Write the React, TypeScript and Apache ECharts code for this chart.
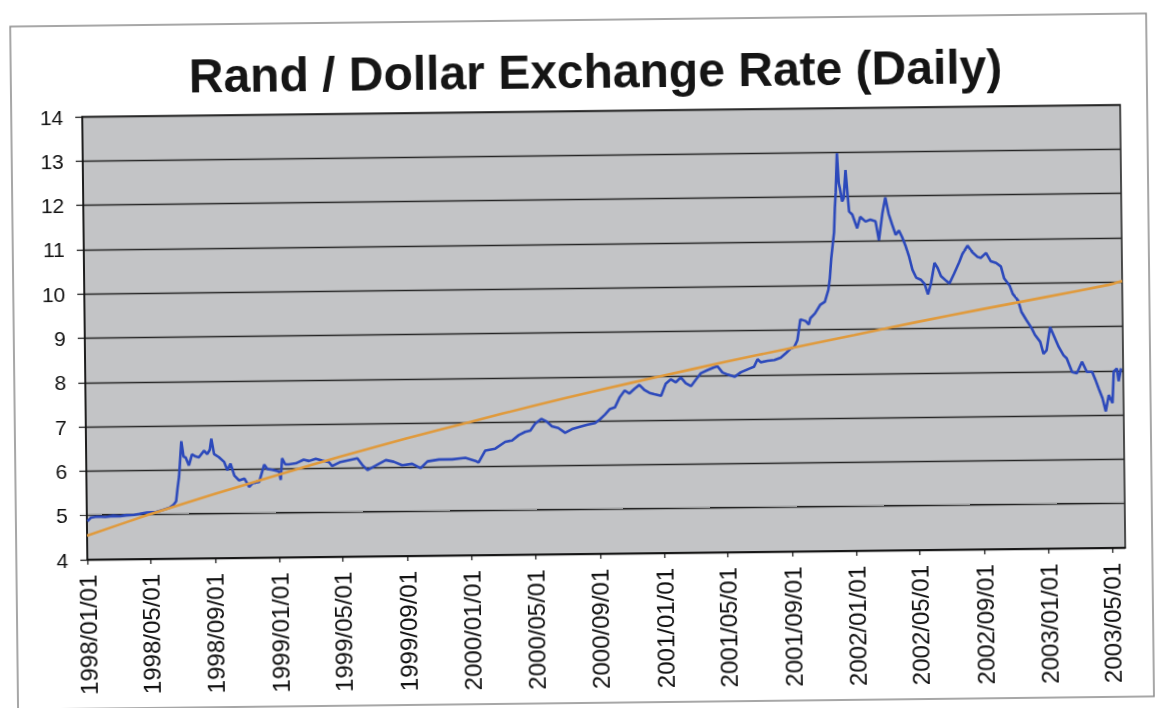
import React, { useEffect, useRef } from "react";
import * as echarts from "echarts";

// Rand per US dollar, sampled from the daily series
const rateDates: string[] = [
  "1998-01-02", "1998-01-09", "1998-01-20", "1998-02-05", "1998-02-20", "1998-03-05", "1998-03-17", "1998-04-01",
  "1998-04-11", "1998-04-25", "1998-05-13", "1998-05-25", "1998-06-07", "1998-06-15", "1998-06-20", "1998-06-23",
  "1998-06-26", "1998-07-01", "1998-07-05", "1998-07-09", "1998-07-15", "1998-07-21", "1998-07-28", "1998-08-03",
  "1998-08-13", "1998-08-19", "1998-08-24", "1998-08-27", "1998-09-01", "1998-09-10", "1998-09-20", "1998-09-26",
  "1998-10-02", "1998-10-09", "1998-10-18", "1998-10-28", "1998-11-06", "1998-11-12", "1998-11-25", "1998-12-05",
  "1998-12-11", "1998-12-20", "1999-01-02", "1999-01-05", "1999-01-08", "1999-01-14", "1999-01-21", "1999-02-03",
  "1999-02-18", "1999-02-28", "1999-03-13", "1999-03-25", "1999-04-07", "1999-04-13", "1999-04-29", "1999-05-15",
  "1999-05-31", "1999-06-09", "1999-06-19", "1999-07-05", "1999-07-24", "1999-08-08", "1999-08-24", "1999-09-12",
  "1999-09-28", "1999-10-11", "1999-11-02", "1999-11-27", "1999-12-22", "2000-01-10", "2000-01-16", "2000-01-29",
  "2000-02-17", "2000-03-07", "2000-03-20", "2000-04-02", "2000-04-14", "2000-04-24", "2000-05-03", "2000-05-15",
  "2000-05-25", "2000-06-04", "2000-06-16", "2000-06-29", "2000-07-12", "2000-07-24", "2000-08-09", "2000-08-25",
  "2000-09-03", "2000-09-13", "2000-09-22", "2000-10-02", "2000-10-11", "2000-10-21", "2000-10-30", "2000-11-09",
  "2000-11-18", "2000-11-28", "2000-12-07", "2000-12-16", "2000-12-29", "2001-01-07", "2001-01-17", "2001-01-26",
  "2001-02-05", "2001-02-14", "2001-02-24", "2001-03-05", "2001-03-15", "2001-03-28", "2001-04-10", "2001-04-16",
  "2001-04-25", "2001-05-05", "2001-05-18", "2001-05-30", "2001-06-15", "2001-06-24", "2001-07-01", "2001-07-07",
  "2001-07-20", "2001-08-02", "2001-08-14", "2001-08-24", "2001-09-02", "2001-09-09", "2001-09-15", "2001-09-18",
  "2001-09-21", "2001-10-01", "2001-10-07", "2001-10-10", "2001-10-19", "2001-10-29", "2001-11-07", "2001-11-14",
  "2001-11-17", "2001-11-20", "2001-11-23", "2001-11-26", "2001-11-28", "2001-11-30", "2001-12-03", "2001-12-06",
  "2001-12-08", "2001-12-12", "2001-12-15", "2001-12-19", "2001-12-23", "2001-12-25", "2001-12-31", "2002-01-09",
  "2002-01-15", "2002-01-25", "2002-02-03", "2002-02-13", "2002-02-19", "2002-02-26", "2002-03-04", "2002-03-10",
  "2002-03-16", "2002-03-23", "2002-03-29", "2002-04-04", "2002-04-11", "2002-04-17", "2002-04-23", "2002-04-30",
  "2002-05-09", "2002-05-16", "2002-05-22", "2002-05-28", "2002-06-04", "2002-06-10", "2002-06-16", "2002-06-26",
  "2002-07-02", "2002-07-11", "2002-07-21", "2002-07-27", "2002-08-06", "2002-08-15", "2002-08-25", "2002-08-31",
  "2002-09-10", "2002-09-19", "2002-09-29", "2002-10-08", "2002-10-14", "2002-10-24", "2002-10-30", "2002-11-09",
  "2002-11-15", "2002-11-24", "2002-12-04", "2002-12-10", "2002-12-20", "2002-12-26", "2003-01-01", "2003-01-08",
  "2003-01-14", "2003-01-24", "2003-02-02", "2003-02-08", "2003-02-18", "2003-02-27", "2003-03-09", "2003-03-18",
  "2003-03-28", "2003-04-03", "2003-04-09", "2003-04-16", "2003-04-22", "2003-04-28", "2003-05-05", "2003-05-08",
  "2003-05-14", "2003-05-17", "2003-05-22",
];

const rateValues: number[] = [
  4.87, 4.95, 4.97, 4.96, 4.98, 4.97, 4.99, 5.0,
  5.02, 5.05, 5.06, 5.1, 5.15, 5.22, 5.3, 5.6,
  5.85, 6.65, 6.3, 6.28, 6.1, 6.35, 6.3, 6.28,
  6.43, 6.35, 6.45, 6.7, 6.35, 6.28, 6.17, 5.98,
  6.13, 5.86, 5.75, 5.79, 5.6, 5.68, 5.71, 6.1,
  6.0, 5.98, 5.94, 5.75, 6.24, 6.1, 6.1, 6.12,
  6.2, 6.17, 6.22, 6.18, 6.14, 6.05, 6.14, 6.18,
  6.22, 6.07, 5.95, 6.05, 6.17, 6.13, 6.05, 6.08,
  5.98, 6.13, 6.17, 6.17, 6.2, 6.13, 6.09, 6.36,
  6.4, 6.55, 6.58, 6.7, 6.77, 6.8, 6.95, 7.06,
  7.0, 6.89, 6.85, 6.74, 6.82, 6.86, 6.91, 6.95,
  7.03, 7.14, 7.26, 7.3, 7.52, 7.68, 7.61, 7.72,
  7.8, 7.68, 7.62, 7.59, 7.55, 7.82, 7.92, 7.85,
  7.96, 7.83, 7.76, 7.9, 8.05, 8.12, 8.18, 8.2,
  8.06, 8.01, 7.96, 8.06, 8.14, 8.18, 8.35, 8.28,
  8.31, 8.33, 8.38, 8.48, 8.58, 8.62, 8.77, 9.0,
  9.24, 9.2, 9.12, 9.26, 9.37, 9.56, 9.63, 9.9,
  10.16, 10.6, 10.9, 11.2, 11.74, 12.1, 12.98, 12.3,
  12.19, 11.89, 11.96, 12.6, 11.96, 11.66, 11.59, 11.28,
  11.54, 11.43, 11.47, 11.43, 11.0, 11.6, 11.97, 11.6,
  11.37, 11.12, 11.22, 11.07, 10.85, 10.62, 10.33, 10.15,
  10.1, 10.0, 9.77, 10.02, 10.48, 10.36, 10.18, 10.07,
  10.01, 10.23, 10.49, 10.67, 10.86, 10.71, 10.6, 10.58,
  10.69, 10.5, 10.46, 10.38, 10.11, 9.95, 9.76, 9.61,
  9.35, 9.17, 8.98, 8.83, 8.67, 8.4, 8.48, 9.0,
  8.83, 8.55, 8.36, 8.29, 7.98, 7.95, 8.21, 7.98,
  7.98, 7.8, 7.6, 7.38, 7.08, 7.45, 7.27, 7.98,
  8.05, 7.76, 8.05,
];

// Trend line through the rate, read at each labelled date
const trendDates: string[] = [
  "1998-01-01", "1998-05-01", "1998-09-01", "1999-01-01", "1999-05-01", "1999-09-01", "2000-01-01",
  "2000-05-01", "2000-09-01", "2001-01-01", "2001-05-01", "2001-09-01", "2002-01-01", "2002-05-01",
  "2002-09-01", "2003-01-01", "2003-05-01", "2003-05-26",
];
const trendValues: number[] = [
  4.54, 5.01, 5.45, 5.87, 6.27, 6.65, 7.01,
  7.36, 7.69, 8.0, 8.3, 8.59, 8.87, 9.15,
  9.42, 9.68, 9.94, 10.02,
];

const tickLabels: string[] = [
  "1998/01/01", "1998/05/01", "1998/09/01", "1999/01/01", "1999/05/01", "1999/09/01",
  "2000/01/01", "2000/05/01", "2000/09/01", "2001/01/01", "2001/05/01", "2001/09/01",
  "2002/01/01", "2002/05/01", "2002/09/01", "2003/01/01", "2003/05/01",
];

const AXIS_START = "1998-01-01";
const AXIS_END = "2003-05-26";

const DAY = 86400000;
function toUTC(s: string): number {
  const [y, m, d] = s.split(/[-/]/).map(Number);
  return Date.UTC(y, m - 1, d);
}
const origin = toUTC(AXIS_START);
const dayIndex = (s: string) => Math.round((toUTC(s) - origin) / DAY);

const tickDays = tickLabels.map(dayIndex);
const labelByDay = new Map<number, string>(tickDays.map((d, i) => [d, tickLabels[i]]));

const FONT = '"Liberation Sans", Arial, Helvetica, sans-serif';

export default function App() {
  const ref = useRef<HTMLDivElement>(null);

  useEffect(() => {
    if (!ref.current) return;
    const chart = echarts.init(ref.current, undefined, { renderer: "svg" });

    const rateData = rateDates.map((d, i) => [dayIndex(d), rateValues[i]]);
    const trendData = trendDates.map((d, i) => [dayIndex(d), trendValues[i]]);

    chart.setOption({
      animation: false,
      backgroundColor: "#ffffff",
      title: {
        text: "Rand / Dollar Exchange Rate (Daily)",
        left: 187,
        top: 42,
        textStyle: { fontFamily: FONT, fontWeight: "bold", fontSize: 48, color: "#151515" },
      },
      graphic: [
        {
          type: "rect",
          silent: true,
          shape: { x: 14, y: 20, width: 1136, height: 683 },
          style: { fill: "none", stroke: "#8a8a8a", lineWidth: 1.5 },
        },
      ],
      grid: {
        left: 85,
        right: 36,
        top: 111,
        bottom: 154,
        show: true,
        backgroundColor: "#c3c4c6",
        borderColor: "#1c1c1c",
        borderWidth: 1.5,
      },
      xAxis: {
        type: "value",
        min: 0,
        max: dayIndex(AXIS_END),
        splitLine: { show: false },
        axisLine: { show: true, lineStyle: { color: "#111", width: 1.5 } },
        axisTick: { show: true, customValues: tickDays, length: 5, lineStyle: { color: "#111", width: 1.2 } },
        axisLabel: {
          customValues: tickDays,
          rotate: 90,
          margin: 15,
          fontFamily: FONT,
          fontSize: 24,
          color: "#111",
          formatter: (v: number) => labelByDay.get(Math.round(v)) ?? "",
        },
      },
      yAxis: {
        type: "value",
        min: 4,
        max: 14,
        interval: 1,
        splitLine: { show: true, lineStyle: { color: "#262626", width: 1.3 } },
        axisLine: { show: true, lineStyle: { color: "#111", width: 1.5 } },
        axisTick: { show: true, length: 7, lineStyle: { color: "#111", width: 1.2 } },
        axisLabel: { margin: 19, fontFamily: FONT, fontSize: 21, color: "#111" },
      },
      series: [
        {
          name: "Rand / Dollar",
          type: "line",
          data: rateData,
          showSymbol: false,
          lineStyle: { color: "#2c49bb", width: 2.6 },
          z: 3,
        },
        {
          name: "Trend",
          type: "line",
          data: trendData,
          showSymbol: false,
          smooth: 0.2,
          lineStyle: { color: "#e09a3c", width: 2.6 },
          z: 4,
        },
      ],
    });

    return () => chart.dispose();
  }, []);

  return (
    <div
      ref={ref}
      style={{
        position: "fixed",
        left: 0,
        top: 0,
        width: 1159,
        height: 708,
        background: "#ffffff",
        transform: "rotate(-0.66deg)",
        transformOrigin: "50% 50%",
      }}
    />
  );
}
